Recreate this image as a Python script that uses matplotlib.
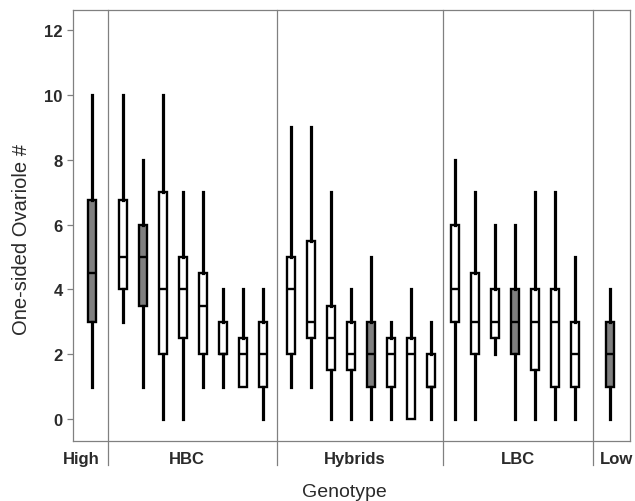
import matplotlib
matplotlib.use('Agg')
import matplotlib.pyplot as plt
import numpy as np

plt.rcParams['font.family'] = ['Liberation Sans', 'DejaVu Sans']

# 分组与每组箱子数
groups = ['High', 'HBC', 'Hybrids', 'LBC', 'Low']
group_start = [0.95, 2.5, 10.9, 19.1, 26.85]
group_label_x = [0.4, 5.7, 14.1, 22.25, 27.2]
separators = [1.75, 10.2, 18.5, 26.0]

# 每个箱子: 下须, Q1, 中位数, Q3, 上须
high = [[1, 3, 4.5, 6.75, 10]]
hbc = [[3, 4, 5, 6.75, 10],
       [1, 3.5, 5, 6, 8],
       [0, 2, 4, 7, 10],
       [0, 2.5, 4, 5, 7],
       [1, 2, 3.5, 4.5, 7],
       [1, 2, 2, 3, 4],
       [1, 1, 2, 2.5, 4],
       [0, 1, 2, 3, 4]]
hybrids = [[1, 2, 4, 5, 9],
           [1, 2.5, 3, 5.5, 9],
           [0, 1.5, 2.5, 3.5, 7],
           [0, 1.5, 2, 3, 4],
           [0, 1, 2, 3, 5],
           [0, 1, 2, 2.5, 3],
           [0, 0, 2, 2.5, 4],
           [0, 1, 1, 2, 3]]
lbc = [[0, 3, 4, 6, 8],
       [0, 2, 3, 4.5, 7],
       [2, 2.5, 3, 4, 6],
       [0, 2, 3, 4, 6],
       [0, 1.5, 3, 4, 7],
       [0, 1, 3, 4, 7],
       [0, 1, 2, 3, 5]]
low = [[0, 1, 2, 3, 4]]

# 灰色填充的箱子 (组, 序号)
filled = {('High', 0), ('HBC', 1), ('Hybrids', 4), ('LBC', 3), ('Low', 0)}

all_data = [high, hbc, hybrids, lbc, low]

fig = plt.figure(figsize=(6.35, 5.02), dpi=100)
ax = fig.add_axes([0.115, 0.1195, 0.877, 0.8585])

for g, start, data in zip(groups, group_start, all_data):
    for i, (lo, q1, med, q3, hi) in enumerate(data):
        st = [dict(whislo=lo, q1=q1, med=med, q3=q3, whishi=hi, fliers=[])]
        face = '#7f7f7f' if (g, i) in filled else 'white'
        ax.bxp(st, positions=[start + i], widths=0.42, patch_artist=True,
               showcaps=False, manage_ticks=False,
               boxprops=dict(facecolor=face, edgecolor='black', linewidth=1.7),
               whiskerprops=dict(color='black', linewidth=2.3),
               medianprops=dict(color='black', linewidth=1.7))

# 分隔线 (延伸到坐标轴下方)
for s in separators:
    ax.axvline(s, ymin=-0.056, ymax=1, color='#808080', linewidth=0.9, clip_on=False)

for lab, x in zip(groups, group_label_x):
    ax.text(x, -0.0405, lab, transform=ax.get_xaxis_transform(), ha='center', va='center',
            fontsize=12, fontweight='bold', color='#2a2a2a')

ax.set_xlim(0, 27.85)
ax.set_ylim(-0.68, 12.62)
ax.set_xticks([])
ax.set_yticks([0, 2, 4, 6, 8, 10, 12])
ax.tick_params(axis='y', direction='out', length=4.5, width=0.9, color='#808080',
               labelsize=12, pad=3)
for t in ax.get_yticklabels():
    t.set_fontweight('bold')
    t.set_color('#2a2a2a')
for sp in ax.spines.values():
    sp.set_color('#808080')
    sp.set_linewidth(0.9)

ax.set_ylabel('One-sided Ovariole #', fontsize=14.5, color='#2a2a2a')
ax.yaxis.set_label_coords(-0.076, 0.471)
fig.text(0.543, 0.018, 'Genotype', ha='center', va='center', fontsize=14, color='#2a2a2a')

plt.savefig('out.png', dpi=100)
